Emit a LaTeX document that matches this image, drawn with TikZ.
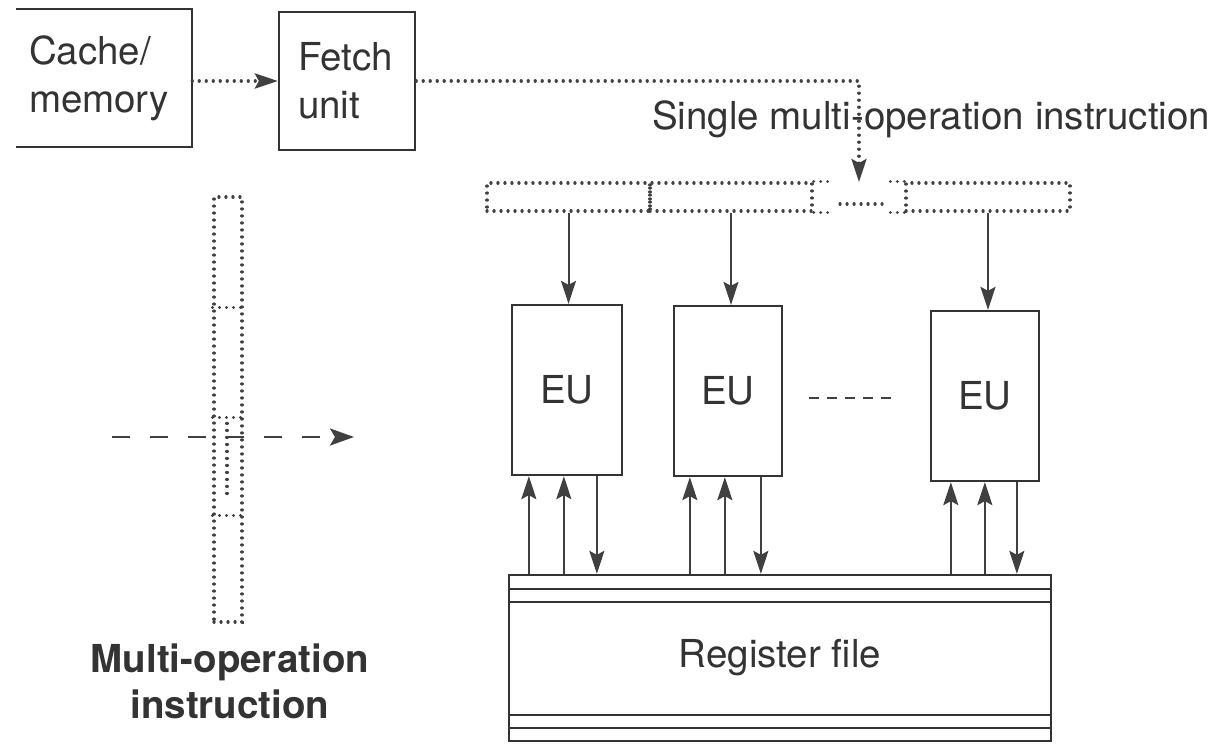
\documentclass[tikz,border=0pt]{standalone}
\usepackage{fontspec}
\setmainfont{TeX Gyre Heros}
\usetikzlibrary{arrows.meta,calc}
\begin{document}
\begin{tikzpicture}[x=1pt,y=-1pt,
  ink/.style={draw=black!80},
  box/.style={ink,line width=2.3pt},
  lbl/.style={font=\fontsize{38.5}{48}\selectfont, text=black!80, inner sep=0pt},
  tip/.style={-{Stealth[length=23pt,width=15pt,inset=4pt]}},
  arr/.style={draw=black!75,line width=2pt,tip},
  dotline/.style={draw=black!75,line width=3.2pt,dash pattern=on 0.1pt off 6.9pt,line cap=round},
  dotbox/.style={dotline,rectangle,inner sep=0pt},
  dasharr/.style={draw=black!75,line width=2.6pt,dash pattern=on 18pt off 20pt,-{Stealth[length=24pt,width=17pt,inset=5pt]}},
]
\useasboundingbox (0,0) rectangle (1222,744);

% Cache / memory (open on the left)
\node[lbl, minimum width=176pt, minimum height=138pt, text width=150pt, align=left] (cache) at (104,78) {Cache/\\memory};
\draw[box] (cache.north west) -- (cache.north east) -- (cache.south east) -- (cache.south west);

% Fetch unit
\node[lbl, box, minimum width=136pt, minimum height=138pt, text width=98pt, align=left] (fetch) at (347,81) {Fetch\\unit};

% cache -> fetch
\draw[dotline,tip] (fetch.west -| cache.east) -- (fetch.west);

% instruction word
\node[dotbox, minimum width=163pt, minimum height=28pt] (w1) at (568.5,197) {};
\node[dotbox, minimum width=162pt, minimum height=28pt] (w2) at (731,197) {};
\node[dotbox, minimum width=164pt, minimum height=28pt] (w3) at (988,197) {};
\draw[dotline] (w2.north east) -- ++(14,0);
\draw[dotline] (w2.south east) -- ++(14,0);
\draw[dotline] (w3.north west) -- ++(-14,0);
\draw[dotline] (w3.south west) -- ++(-14,0);
\draw[dotline] (840,204) -- (882,204);

% fetch -> instruction word
\coordinate (drop) at (859,182);
\draw[dotline,tip] (fetch.east) -- (fetch.east -| drop) -- (drop);
\node[lbl, anchor=base west] (title) at (652,129) {Single multi-operation instruction};

% execution units
\node[lbl, box, minimum width=110pt, minimum height=170pt] (eu1) at (567,390) {EU};
\node[lbl, box, minimum width=108pt, minimum height=170pt] (eu2) at (728,391) {EU};
\node[lbl, box, minimum width=108pt, minimum height=170pt] (eu3) at (985,396) {EU};
\draw[line width=2.2pt, draw=black!75, dash pattern=on 10pt off 8pt] ($(eu2.east)+(26,7)$) -- ($(eu3.west)+(-33,2)$);

\foreach \w/\e in {w1/eu1, w2/eu2, w3/eu3}
  \draw[arr] (\w.south) -- (\w.south |- \e.north);

% register file
\node[lbl, box, minimum width=542pt, minimum height=166pt] (reg) at (780,658) {Register file};
\draw[box] ($(reg.north west)+(0,15)$) -- ($(reg.north east)+(0,15)$);
\draw[box] ($(reg.north west)+(0,28)$) -- ($(reg.north east)+(0,28)$);
\draw[box] ($(reg.south west)+(0,-27)$) -- ($(reg.south east)+(0,-27)$);
\draw[box] ($(reg.south west)+(0,-14)$) -- ($(reg.south east)+(0,-14)$);

\foreach \e/\a/\b/\c in {eu1/18/53/86, eu2/17/52/88, eu3/21/55/87} {
  \coordinate (pa) at ([xshift=\a pt]\e.south west);
  \coordinate (pb) at ([xshift=\b pt]\e.south west);
  \coordinate (pc) at ([xshift=\c pt]\e.south west);
  \draw[arr] (pa |- reg.north) -- (pa);
  \draw[arr] (pb |- reg.north) -- (pb);
  \draw[arr] (pc) -- (pc |- reg.north);
}

% vertical multi-operation instruction
\node[dotbox, minimum width=28pt, minimum height=425pt] (col) at (228,409.5) {};
\draw[dotline] ($(col.north west)+(0,112)$) -- ($(col.north east)+(0,112)$);
\draw[dotline] ($(col.north west)+(0,222)$) -- ($(col.north east)+(0,222)$);
\draw[dotline] ($(col.north west)+(0,320)$) -- ($(col.north east)+(0,320)$);
\draw[dotline] ($(col.north)+(-1,228)$) -- ($(col.north)+(-1,300)$);

\coordinate (ds) at (112,437);
\coordinate (de) at (354,437);
\draw[dasharr] (ds) -- (de);

\node[lbl, font=\fontsize{38.5}{46}\selectfont\bfseries, align=center] (mlabel) at (230,681) {Multi-operation\\instruction};
\end{tikzpicture}
\end{document}
